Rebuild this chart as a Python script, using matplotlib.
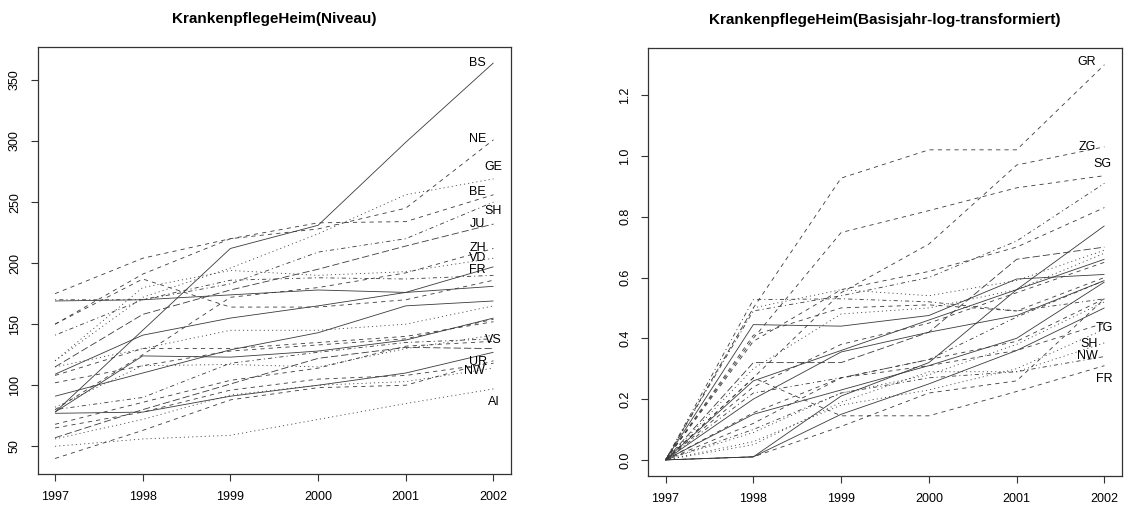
import matplotlib
matplotlib.use("Agg")
import matplotlib.pyplot as plt

# ── data ───────────────────────────────────────────────────────────────────────
years = [1997, 1998, 1999, 2000, 2001, 2002]

# Niveau (level) per canton, 1997..2002
niveau = [
    [78, 145, 212, 231, 299, 364],
    [150, 191, 220, 228, 245, 301],
    [120, 172, 196, 224, 256, 269],
    [175, 204, 220, 233, 234, 256],
    [141, 170, 183, 209, 220, 250],
    [115, 158, 178, 195, 214, 232],
    [80, 125, 172, 180, 192, 212],
    [120, 180, 194, 190, 193, 204],
    [109, 141, 155, 165, 176, 197],
    [170, 170, 186, 188, 187, 190],
    [150, 187, 164, 164, 170, 186],
    [169, 170, 174, 178, 176, 181],
    [91, 110, 129, 143, 165, 169],
    [115, 130, 145, 145, 150, 165],
    [78, 124, 123, 128, 137, 155],
    [102, 116, 128, 133, 138, 154],
    [108, 130, 130, 135, 140, 152],
    [82, 116, 117, 115, 130, 141],
    [80, 90, 118, 127, 135, 138],
    [68, 86, 104, 114, 132, 136],
    [57, 80, 101, 122, 131, 130],
    [77, 78, 91, 100, 110, 127],
    [65, 78, 96, 105, 108, 118],
    [56, 72, 92, 100, 103, 114],
    [50, 56, 59, 72, 85, 97],
    [40, 63, 88, 98, 100, 120],
]

# Basisjahr-log-transformiert, 1997..2002
logtrans = [
    [0, 0.50, 0.927, 1.02, 1.02, 1.30],
    [0, 0.27, 0.55, 0.71, 0.97, 1.03],
    [0, 0.40, 0.748, 0.82, 0.895, 0.935],
    [0, 0.49, 0.54, 0.60, 0.72, 0.91],
    [0, 0.39, 0.56, 0.62, 0.70, 0.83],
    [0, 0.01, 0.21, 0.32, 0.56, 0.77],
    [0, 0.527, 0.53, 0.52, 0.49, 0.53],
    [0, 0.445, 0.44, 0.475, 0.595, 0.61],
    [0, 0.50, 0.56, 0.54, 0.59, 0.69],
    [0, 0.41, 0.50, 0.51, 0.49, 0.60],
    [0, 0.32, 0.32, 0.42, 0.66, 0.70],
    [0, 0.26, 0.36, 0.46, 0.56, 0.66],
    [0, 0.20, 0.355, 0.42, 0.475, 0.59],
    [0, 0.24, 0.38, 0.45, 0.55, 0.65],
    [0, 0.30, 0.48, 0.50, 0.56, 0.68],
    [0, 0.22, 0.27, 0.33, 0.47, 0.59],
    [0, 0.15, 0.23, 0.31, 0.40, 0.585],
    [0, 0.12, 0.27, 0.33, 0.39, 0.53],
    [0, 0.09, 0.22, 0.28, 0.38, 0.52],
    [0, 0.01, 0.15, 0.25, 0.36, 0.50],
    [0, 0.155, 0.27, 0.31, 0.36, 0.45],
    [0, 0.06, 0.18, 0.23, 0.30, 0.43],
    [0, 0.05, 0.19, 0.29, 0.29, 0.385],
    [0, 0.10, 0.22, 0.27, 0.29, 0.34],
    [0, 0.27, 0.145, 0.145, 0.225, 0.31],
    [0, 0.01, 0.11, 0.22, 0.26, 0.53],
]

# canton labels: (text, x, y)
labels_left = [
    ("BS", 2001.82, 364), ("NE", 2001.82, 302), ("GE", 2002.0, 279),
    ("BE", 2001.82, 258), ("SH", 2002.0, 243), ("JU", 2001.82, 232),
    ("ZH", 2001.82, 212), ("VD", 2001.82, 204), ("FR", 2001.82, 194),
    ("VS", 2002.0, 137), ("UR", 2001.82, 119), ("NW", 2001.78, 112),
    ("AI", 2002.0, 86),
]
labels_right = [
    ("GR", 2001.8, 1.31), ("ZG", 2001.8, 1.03), ("SG", 2001.98, 0.975),
    ("TG", 2002.0, 0.435), ("SH", 2001.82, 0.38), ("NW", 2001.8, 0.342),
    ("FR", 2002.0, 0.265),
]

# ── R-like line types ──────────────────────────────────────────────────────────
plt.rcParams["lines.scale_dashes"] = False
LTY = {
    1: "-",
    2: (0, (3, 3)),
    3: (0, (0.8, 2.2)),
    4: (0, (0.8, 2.2, 3, 2.2)),
    5: (0, (5.2, 2.2)),
}
lty_left = [1, 2, 3, 2, 4, 5, 2, 3, 1, 4, 2, 1, 1, 3, 1, 2, 2, 3, 4, 2, 5, 1, 2, 3, 3, 2]
lty_right = [2, 2, 2, 4, 2, 1, 4, 1, 3, 2, 5, 1, 1, 2, 3, 4, 1, 2, 3, 1, 2, 3, 3, 4, 2, 2]

plt.rcParams["font.family"] = ["Liberation Sans", "DejaVu Sans"]

fig = plt.figure(figsize=(11.26, 5.08), dpi=100)
ax1 = fig.add_axes([37.5 / 1126, 1 - 474 / 508, 473.5 / 1126, 427 / 508])
ax2 = fig.add_axes([648 / 1126, 1 - 476 / 508, 474 / 1126, 428 / 508])


def draw(ax, series, ltys, labels, title, ylim, yticks, yfmt):
    for vals, lt in zip(series, ltys):
        ax.plot(years, vals, color="#3a3a3a", lw=0.6, ls=LTY[lt],
                dash_capstyle="butt", solid_capstyle="butt")
    for txt, x, y in labels:
        ax.text(x, y, txt, ha="center", va="center", fontsize=9)
    ax.set_xlim(1996.8, 2002.2)
    ax.set_ylim(*ylim)
    ax.set_xticks(years)
    ax.set_xticklabels([str(y) for y in years])
    ax.set_yticks(yticks)
    ax.set_yticklabels([yfmt(t) for t in yticks], rotation=90, va="center")
    ax.tick_params(direction="out", length=5, width=0.8, color="#333333",
                   labelsize=9, pad=7)
    for s in ax.spines.values():
        s.set_linewidth(0.9)
        s.set_color("#333333")
    ax.set_title(title, fontsize=11, fontweight="bold", pad=17)


draw(ax1, niveau, lty_left, labels_left, "KrankenpflegeHeim(Niveau)",
     (27.3, 377), [50, 100, 150, 200, 250, 300, 350], lambda t: f"{t}")
draw(ax2, logtrans, lty_right, labels_right,
     "KrankenpflegeHeim(Basisjahr-log-transformiert)",
     (-0.053, 1.355), [0.0, 0.2, 0.4, 0.6, 0.8, 1.0, 1.2], lambda t: f"{t:.1f}")

fig.savefig("out.png", dpi=100)
